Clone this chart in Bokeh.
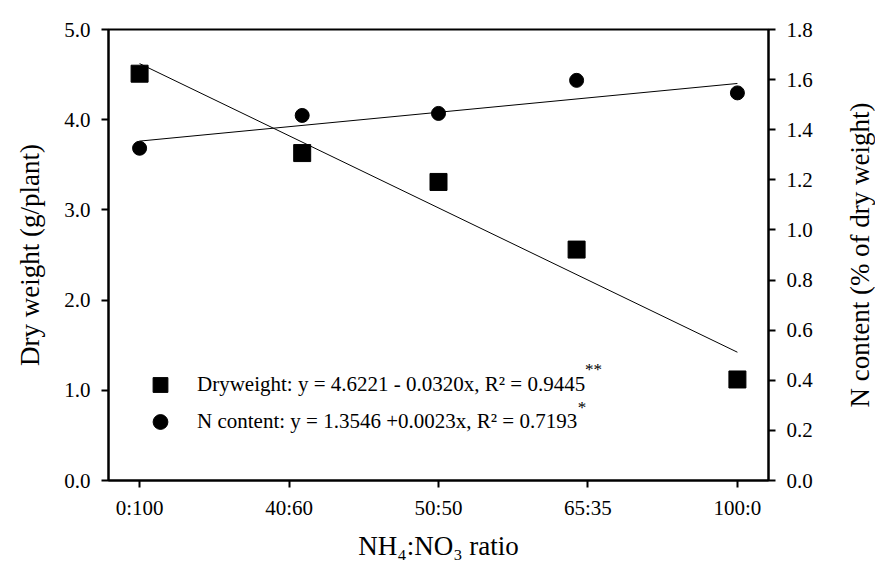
from bokeh.plotting import figure
from bokeh.layouts import row
from bokeh.models import (ColumnDataSource, LinearAxis, Range1d, FixedTicker,
                          Legend, LegendItem, Label, Title)
from bokeh.embed import file_html
from bokeh.resources import INLINE

# ---- data ----
ratio_labels = ["0:100", "40:60", "50:50", "65:35", "100:0"]
tick_pos = [0, 25, 50, 75, 100]
point_pos = [0, 27.2, 50, 73.1, 100]
dry_weight = [4.51, 3.63, 3.31, 2.56, 1.12]
n_content = [1.326, 1.457, 1.465, 1.597, 1.547]
fit_x = [0, 100]
dw_intercept, dw_slope = 4.6221, -0.0320
n_intercept, n_slope = 1.3546, 0.0023
dw_label = "Dryweight: y = 4.6221 - 0.0320x, R\u00b2 = 0.9445"
n_label = "N content: y = 1.3546 +0.0023x, R\u00b2 = 0.7193"
dw_sig = "**"
n_sig = "*"
left_ticks = [0, 1, 2, 3, 4, 5]
right_ticks = [0, 0.2, 0.4, 0.6, 0.8, 1.0, 1.2, 1.4, 1.6, 1.8]
right_title = "N content (% of dry weight)"

FONT = "Liberation Serif"

p = figure(width=815, height=563, output_backend="svg", toolbar_location=None,
           x_range=Range1d(-5.2, 105.2), y_range=Range1d(0, 5.0))
p.min_border_left = 108
p.min_border_right = 46
p.min_border_top = 29
p.min_border_bottom = 82
p.grid.visible = False
p.background_fill_color = "white"
p.border_fill_color = "white"
p.outline_line_color = "black"
p.outline_line_width = 2

p.extra_y_ranges = {"n": Range1d(0, 1.8)}
p.add_layout(LinearAxis(y_range_name="n"), "right")

for ax in p.yaxis:
    ax.axis_line_width = 2
    ax.major_tick_line_width = 2
    ax.major_tick_out = 7
    ax.major_tick_in = 0
    ax.minor_tick_line_color = None
    ax.major_label_text_font = FONT
    ax.major_label_text_font_size = "21px"
    ax.major_label_text_color = "black"
    ax.major_label_standoff = 11

p.yaxis[0].ticker = FixedTicker(ticks=left_ticks)
p.yaxis[0].major_label_overrides = {t: f"{t:.1f}" for t in left_ticks}
p.yaxis[0].axis_label = "Dry weight (g/plant)"
p.yaxis[0].axis_label_text_font = FONT
p.yaxis[0].axis_label_text_font_style = "normal"
p.yaxis[0].axis_label_text_font_size = "27px"
p.yaxis[0].axis_label_text_color = "black"
p.yaxis[0].axis_label_standoff = 16
p.yaxis[1].ticker = FixedTicker(ticks=right_ticks)
p.yaxis[1].major_label_overrides = {t: f"{t:.1f}" for t in right_ticks}

xa = p.xaxis[0]
xa.ticker = FixedTicker(ticks=tick_pos)
xa.major_label_overrides = dict(zip(tick_pos, ratio_labels))
xa.axis_line_width = 2
xa.major_tick_line_width = 2
xa.major_tick_out = 7
xa.major_tick_in = 0
xa.minor_tick_line_color = None
xa.major_label_text_font = FONT
xa.major_label_text_font_size = "21px"
xa.major_label_text_color = "black"
xa.major_label_standoff = 8
xa.axis_label = "NH\u2084:NO\u2083 ratio"
xa.axis_label_text_font = FONT
xa.axis_label_text_font_style = "normal"
xa.axis_label_text_font_size = "27px"
xa.axis_label_text_color = "black"
xa.axis_label_standoff = 8

src = ColumnDataSource(dict(x=point_pos, dw=dry_weight, n=n_content))
fit = ColumnDataSource(dict(
    x=fit_x,
    dw=[dw_intercept + dw_slope * v for v in fit_x],
    n=[n_intercept + n_slope * v for v in fit_x],
))

p.line("x", "dw", source=fit, line_color="black", line_width=1)
p.line("x", "n", source=fit, line_color="black", line_width=1, y_range_name="n")
r_sq = p.scatter("x", "dw", source=src, marker="square", size=17,
                 fill_color="black", line_color="black")
r_ci = p.scatter("x", "n", source=src, marker="circle", size=14,
                 fill_color="black", line_color="black", y_range_name="n")

legend = Legend(items=[LegendItem(label=dw_label, renderers=[r_sq]),
                       LegendItem(label=n_label, renderers=[r_ci])],
                location=(32, 40), orientation="vertical",
                glyph_width=40, glyph_height=37, label_standoff=17,
                spacing=0, padding=0, margin=0,
                border_line_color=None, background_fill_alpha=0,
                label_text_font=FONT, label_text_font_size="21px",
                label_text_color="black", label_height=20)
p.add_layout(legend, "center")

p.add_layout(Label(x=74.5, y=1.12, text=dw_sig, text_font=FONT,
                   text_font_size="17px", text_align="left",
                   text_baseline="bottom", text_color="black"))
p.add_layout(Label(x=73.3, y=0.70, text=n_sig, text_font=FONT,
                   text_font_size="17px", text_align="left",
                   text_baseline="bottom", text_color="black"))

# narrow companion figure carrying the right-hand title (reads bottom-to-top)
p2 = figure(width=60, height=563, output_backend="svg", toolbar_location=None,
            x_range=Range1d(0, 1), y_range=Range1d(0, 1))
p2.min_border_left = 59
p2.min_border_right = 0
p2.min_border_top = 29
p2.min_border_bottom = 82
p2.axis.visible = False
p2.grid.visible = False
p2.outline_line_color = None
p2.background_fill_color = "white"
p2.border_fill_color = "white"
p2.add_layout(Title(text=right_title, align="center", text_font=FONT,
                    text_font_size="27px", text_font_style="normal",
                    text_color="black", standoff=0, offset=0), "left")

layout = row(p, p2, spacing=0)
open("out.html", "w").write(file_html(layout, INLINE))
